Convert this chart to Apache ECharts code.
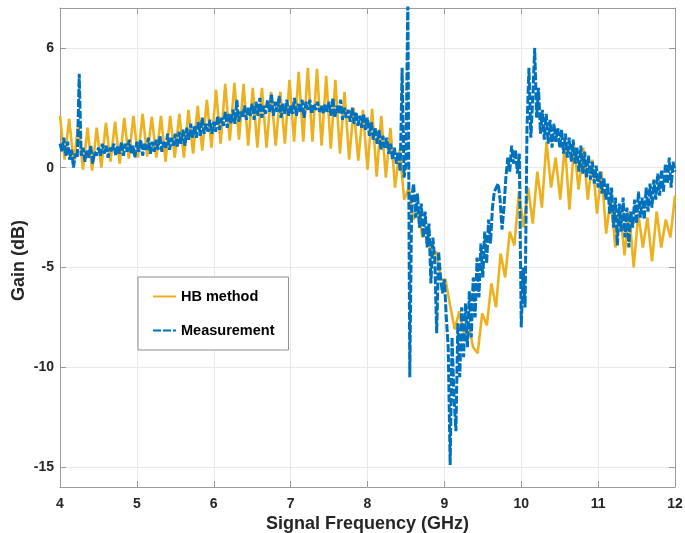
<!DOCTYPE html>
<html>
<head>
<meta charset="utf-8">
<script src="https://cdn.jsdelivr.net/npm/echarts@6/dist/echarts.min.js"></script>
<style>
html,body{margin:0;padding:0;background:#fff;}
#chart{width:685px;height:533px;}
</style>
</head>
<body>
<div id="chart"></div>
<script>
// ---- Data ----
const seriesNames = ['HB method', 'Measurement'];
const xTicks = [4, 5, 6, 7, 8, 9, 10, 11, 12];
const yTicks = [-15, -10, -5, 0, 6];

// HB method gain (dB), evenly sampled from 4 to 12 GHz
const hbGain = [
  2.6, 0.4, 2.45, 0.2, 2.2, -0.1, 2.0, -0.15, 2.0, 0.0,
  2.25, 0.3, 2.3, 0.2, 2.5, 0.45, 2.6, 0.5, 2.7, 0.55,
  2.55, 0.5, 2.6, 0.3, 2.6, 0.5, 2.7, 0.5, 2.9, 0.7,
  3.1, 0.85, 3.4, 1.0, 3.9, 1.2, 4.2, 1.35, 4.25, 1.4,
  4.2, 1.1, 4.0, 1.0, 4.0, 1.0, 3.8, 1.1, 3.8, 1.2,
  4.4, 1.3, 4.8, 1.3, 5.0, 1.3, 4.95, 1.1, 4.6, 0.95,
  4.4, 0.7, 3.8, 0.4, 3.0, 0.35, 2.9, -0.1, 2.95, -0.45,
  2.6, -0.5, 2.0, -1.0, 0.9, -1.6, -1.0, -2.6, -2.2, -3.5,
  -3.0, -4.5, -4.2, -5.6, -5.6, -6.9, -8.1, -7.2, -8.3, -7.8,
  -9.0, -9.3, -7.3, -7.9, -5.8, -7.0, -4.3, -5.5, -3.2, -3.9,
  -1.2, -3.0, -1.0, -2.8, -0.2, -2.0, 1.3, -1.0, 0.5, -1.6,
  1.2, -2.1, 1.1, -1.1, 1.0, -1.6, 0.4, -2.3, -0.2, -3.3,
  -1.5, -4.0, -2.0, -4.4, -2.2, -5.0, -2.3, -4.0, -2.5, -4.7,
  -2.2, -4.0, -2.6, -3.5, -1.4
];

// Measurement gain (dB), one value every 0.025 GHz from 4 to 12 GHz
const measGain = [
  1.2, 0.8, 1.5, 0.6, 1.3, 0.4, 0.9, 0.0, 0.7, 0.5,
  4.7, 0.6, 1.0, 0.3, 0.9, 0.5, 1.1, 0.2, 0.8, 0.6,
  1.0, 0.6, 1.2, 0.7, 1.1, 0.5, 1.0, 0.8, 1.2, 0.6,
  1.1, 0.7, 1.3, 0.6, 1.2, 0.8, 1.4, 0.7, 1.1, 0.5,
  1.3, 0.8, 1.4, 0.6, 1.2, 0.9, 1.5, 0.7, 1.3, 0.8,
  1.4, 0.9, 1.6, 0.8, 1.3, 1.0, 1.7, 0.9, 1.5, 1.1,
  1.7, 1.0, 1.8, 1.2, 1.9, 1.1, 2.0, 1.4, 2.2, 1.5,
  2.1, 1.5, 2.3, 1.6, 2.5, 1.7, 2.2, 1.8, 2.4, 1.7,
  2.3, 1.8, 2.6, 1.9, 2.5, 2.1, 2.8, 2.0, 2.7, 2.2,
  2.9, 2.2, 3.4, 2.3, 2.8, 2.5, 3.1, 2.4, 3.0, 2.6,
  3.2, 2.4, 3.3, 2.6, 3.5, 2.5, 3.1, 2.7, 3.4, 2.8,
  3.7, 2.6, 3.3, 2.8, 3.6, 2.5, 3.2, 2.7, 3.4, 2.6,
  3.1, 2.7, 3.5, 2.6, 3.2, 2.8, 3.4, 2.5, 3.3, 2.9,
  3.4, 2.7, 3.2, 2.9, 3.3, 2.8, 3.1, 2.7, 3.2, 2.8,
  3.3, 2.6, 3.5, 2.5, 3.1, 2.7, 3.4, 2.4, 3.0, 2.5,
  2.9, 2.3, 3.0, 2.2, 2.8, 2.1, 2.6, 2.0, 2.7, 1.9,
  2.5, 1.6, 2.3, 1.4, 2.0, 1.2, 1.9, 0.9, 1.6, 1.0,
  1.5, 0.7, 1.2, 0.4, 1.0, 0.2, 0.8, -0.2, 5.0, -0.5,
  0.2, 8.6, -10.5, -1.5, -0.8, -2.5, -1.3, -3.0, -1.8, -3.5,
  -2.2, -4.0, -2.8, -5.8, -3.5, -4.6, -8.3, -4.2, -5.5, -6.3,
  -5.6, -7.5, -9.0, -14.9, -8.5, -11.5, -13.2, -7.8, -10.5, -7.0,
  -9.5, -6.8, -9.0, -6.2, -8.5, -5.5, -7.5, -4.5, -6.5, -3.8,
  -5.5, -3.2, -4.8, -2.6, -3.8, -2.0, -1.2, -1.0, -0.8, -1.6,
  -3.1, -2.0, -0.5, 0.5, -0.2, 1.1, 0.2, 0.9, -0.3, 0.7,
  -8.0, -5.0, -7.0, 2.0, 5.0, 1.5, 3.5, 6.0, 2.5, 4.0,
  1.7, 2.9, 1.4, 2.7, 1.2, 2.4, 1.0, 2.2, 1.3, 2.0,
  1.0, 1.9, 0.7, 1.7, 0.5, 1.5, 0.3, 1.4, 0.2, 1.0,
  -0.2, 1.1, -0.3, 0.8, -0.5, 0.6, -0.6, 0.3, -0.8, 0.1,
  -1.0, -0.2, -1.3, -0.5, -1.6, -0.8, -2.3, -1.0, -3.0, -1.5,
  -3.9, -1.8, -3.2, -1.5, -3.5, -2.0, -4.0, -2.2, -3.0, -1.6,
  -2.8, -1.2, -2.5, -1.5, -2.6, -1.0, -2.2, -0.8, -2.0, -0.6,
  -1.6, -0.3, -1.4, -0.1, -1.2, 0.2, -0.8, 0.5, -1.0, 0.3,
  -0.2
];

const F_MIN = 4, F_MAX = 12;
const hbData = hbGain.map((g, i) => [F_MIN + i * (F_MAX - F_MIN) / (hbGain.length - 1), g]);
const measData = measGain.map((g, i) => [F_MIN + i * (F_MAX - F_MIN) / (measGain.length - 1), g]);

const FONT = '"Liberation Sans", Arial, Helvetica, sans-serif';
const axisGrey = '#9a9a9a';
const gridGrey = '#e8e8e8';
const labelColor = '#262626';

const chart = echarts.init(document.getElementById('chart'), null, {renderer: 'canvas'});
chart.setOption({
  animation: false,
  backgroundColor: '#fff',
  grid: {left: 60, right: 10, top: 8, bottom: 46, containLabel: false, outerBoundsMode: 'none'},
  legend: {
    orient: 'vertical',
    left: 138, top: 277,
    backgroundColor: '#fff',
    borderColor: '#8c8c8c', borderWidth: 1, borderRadius: 0,
    padding: [12, 14, 12, 14],
    itemGap: 19, itemWidth: 23, itemHeight: 16,
    itemStyle: {color: 'rgba(0,0,0,0)', borderColor: 'rgba(0,0,0,0)', borderWidth: 0},
    textStyle: {fontFamily: FONT, fontWeight: 'bold', fontSize: 14.5, color: '#000'},
    data: seriesNames
  },
  xAxis: [{
    type: 'value', min: F_MIN, max: F_MAX, interval: 1,
    name: 'Signal Frequency (GHz)', nameLocation: 'middle', nameGap: 28, nameMoveOverlap: false,
    nameTextStyle: {fontFamily: FONT, fontWeight: 'bold', fontSize: 18, color: labelColor},
    axisLine: {show: true, onZero: false, lineStyle: {color: axisGrey, width: 1}},
    axisTick: {show: true, inside: true, length: 6, lineStyle: {color: axisGrey}},
    axisLabel: {show: true, margin: 10, fontFamily: FONT, fontWeight: 'bold', fontSize: 14, color: labelColor,
      customValues: xTicks},
    splitLine: {show: true, lineStyle: {color: gridGrey, width: 1}}
  }, {
    type: 'value', position: 'top', min: F_MIN, max: F_MAX, interval: 1,
    axisLine: {show: true, onZero: false, lineStyle: {color: axisGrey, width: 1}},
    axisTick: {show: true, inside: true, length: 6, lineStyle: {color: axisGrey}},
    axisLabel: {show: false},
    splitLine: {show: false}
  }],
  yAxis: [{
    type: 'value', min: -16, max: 8,
    name: 'Gain (dB)', nameLocation: 'middle', nameGap: 32, nameMoveOverlap: false,
    nameTextStyle: {fontFamily: FONT, fontWeight: 'bold', fontSize: 18, color: labelColor, padding: [0, 26, 0, 0]},
    axisLine: {show: true, onZero: false, lineStyle: {color: axisGrey, width: 1}},
    axisTick: {show: true, inside: true, length: 6, lineStyle: {color: axisGrey}, customValues: yTicks},
    axisLabel: {show: true, margin: 6, fontFamily: FONT, fontWeight: 'bold', fontSize: 14, color: labelColor,
      customValues: yTicks},
    splitLine: {show: true, lineStyle: {color: gridGrey, width: 1}}
  }, {
    type: 'value', position: 'right', min: -16, max: 8,
    axisLine: {show: true, onZero: false, lineStyle: {color: axisGrey, width: 1}},
    axisTick: {show: true, inside: true, length: 6, lineStyle: {color: axisGrey}, customValues: yTicks},
    axisLabel: {show: false, customValues: yTicks},
    splitLine: {show: false}
  }],
  series: [{
    name: seriesNames[0], type: 'line', data: hbData,
    xAxisIndex: 0, yAxisIndex: 0,
    symbol: 'none', clip: true,
    lineStyle: {color: '#EDB120', width: 2.6},
    itemStyle: {color: '#EDB120'},
    z: 2
  }, {
    name: seriesNames[1], type: 'line', data: measData,
    xAxisIndex: 0, yAxisIndex: 0,
    symbol: 'none', clip: true,
    lineStyle: {color: '#0072BD', width: 3, type: [8, 2]},
    itemStyle: {color: '#0072BD'},
    z: 3
  }]
});
</script>
</body>
</html>
